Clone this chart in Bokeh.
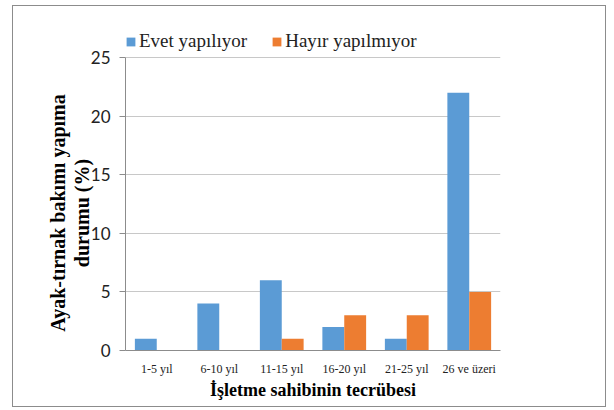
from bokeh.plotting import figure
from bokeh.models import FactorRange, Range1d, Legend, LegendItem, SingleIntervalTicker
from bokeh.transform import dodge
from bokeh.embed import file_html
from bokeh.resources import INLINE
from bokeh.models import ColumnDataSource

categories = ["1-5 yıl", "6-10 yıl", "11-15 yıl", "16-20 yıl", "21-25 yıl", "26 ve üzeri"]
evet = [1, 4, 6, 2, 1, 22]
hayir = [0, 0, 1, 3, 3, 5]
series_names = ["Evet yapılıyor", "Hayır yapılmıyor"]
colors = ["#5B9BD5", "#ED7D31"]
y_max = 25

src = ColumnDataSource(dict(cat=categories, evet=evet, hayir=hayir))

# frame extends above the 25 line to host the legend (25 line sits 27px below frame top)
frame_top_extra = 27 / 293 * y_max
p = figure(x_range=FactorRange(*categories, range_padding=0),
           y_range=Range1d(0, y_max + frame_top_extra),
           width=594, height=402, output_backend="svg", toolbar_location=None,
           min_border_left=112, min_border_right=107, min_border_top=24, min_border_bottom=58)
p.styles = {"border": "1px solid #8c8c8c", "margin-left": "12px", "margin-top": "5px"}
p.outline_line_color = None

r1 = p.vbar(x=dodge("cat", -0.175, range=p.x_range), top="evet", width=0.35, source=src,
            fill_color=colors[0], line_color=None)
r2 = p.vbar(x=dodge("cat", 0.175, range=p.x_range), top="hayir", width=0.35, source=src,
            fill_color=colors[1], line_color=None)

p.xgrid.grid_line_color = None
p.ygrid.grid_line_color = "#c8c8c8"
p.ygrid.grid_line_width = 1.2

p.yaxis.ticker = SingleIntervalTicker(interval=5)
p.yaxis.bounds = (0, y_max)
p.yaxis.minor_tick_line_color = None
p.yaxis.major_tick_out = 6
p.yaxis.major_tick_in = 0
p.yaxis.axis_line_color = "#8c8c8c"
p.yaxis.major_tick_line_color = "#8c8c8c"
p.yaxis.major_label_text_font = "Lato"
p.yaxis.major_label_text_font_size = "17px"
p.yaxis.major_label_text_color = "#222222"
p.yaxis.major_label_standoff = 9
pad = "\u00a0" * 9
p.yaxis.axis_label = "Ayak-tırnak bakımı yapıma" + pad + "\n" + "durumu (%)" + pad
p.yaxis.axis_label_text_font = "Liberation Serif"
p.yaxis.axis_label_text_font_style = "bold"
p.yaxis.axis_label_text_font_size = "20px"
p.yaxis.axis_label_text_line_height = 1.1
p.yaxis.axis_label_text_color = "#000000"
p.yaxis.axis_label_standoff = -5

p.xaxis.axis_line_color = "#8c8c8c"
p.xaxis.major_tick_line_color = None
p.xaxis.minor_tick_line_color = None
p.xaxis.major_label_text_font = "Liberation Serif"
p.xaxis.major_label_text_font_size = "12px"
p.xaxis.major_label_text_color = "#222222"
p.xaxis.major_label_standoff = 5
p.xaxis.axis_label = "İşletme sahibinin tecrübesi"
p.xaxis.axis_label_text_font = "Liberation Serif"
p.xaxis.axis_label_text_font_style = "bold"
p.xaxis.axis_label_text_font_size = "18px"
p.xaxis.axis_label_text_color = "#000000"
p.xaxis.axis_label_standoff = 1

legend = Legend(items=[LegendItem(label=series_names[0], renderers=[r1]),
                       LegendItem(label=series_names[1], renderers=[r2])],
                orientation="horizontal", location="top_left",
                glyph_width=11, glyph_height=11, label_standoff=3, spacing=24,
                padding=6, margin=0, border_line_color=None, background_fill_alpha=0,
                label_text_font="Liberation Serif", label_text_font_size="19px",
                label_text_color="#222222")
p.add_layout(legend)

open("out.html", "w").write(file_html(p, INLINE))
